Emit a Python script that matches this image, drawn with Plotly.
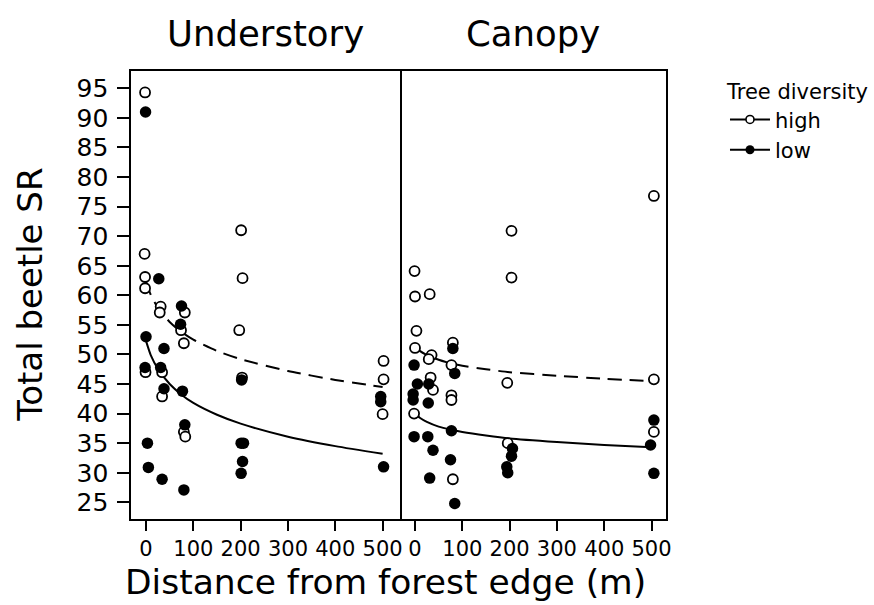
import plotly.graph_objects as go

# Understory, high tree diversity (open circles): distance (m, jittered) and species richness
under_high_x = [-2, -3, -2, -2, 201, 204, 31, 29, 82, 74, 80, 197, -1, 34, 34, 203, 80, 83, 502, 502, 500]
under_high_y = [94.3, 67.0, 63.1, 61.2, 71.0, 62.9, 58.1, 57.1, 57.1, 54.1, 51.9, 54.1, 47.0, 47.0, 42.9, 46.1, 36.9, 36.1, 48.9, 45.8, 39.9]

# Understory, low tree diversity (filled circles)
under_low_x = [-1, 27, 75, 73, 0, 38, -2, 31, 38, 77, 202, 82, 3, 5, 34, 80, 201, 206, 204, 201, 496, 496, 502]
under_low_y = [91.0, 62.8, 58.2, 55.1, 53.0, 51.0, 47.8, 47.8, 44.2, 43.8, 45.7, 38.1, 35.0, 30.9, 28.9, 27.1, 35.0, 35.0, 31.9, 29.9, 42.9, 42.0, 31.0]

# Canopy, high tree diversity
canopy_high_x = [204, 204, -1, 0, 31, 3, 80, 0, 35, 29, 77, 33, 38, 77, 77, -2, 195, 80, 196, 505, 505, 505]
canopy_high_y = [70.9, 63.0, 64.1, 59.8, 60.2, 54.0, 52.0, 51.1, 49.9, 49.2, 48.2, 46.1, 44.0, 43.1, 42.3, 40.0, 45.2, 28.9, 35.0, 76.8, 45.8, 36.9]

# Canopy, low tree diversity
canopy_low_x = [80, -2, 84, 5, 29, -4, -4, 28, 77, -2, 27, 38, 75, 31, 84, 206, 204, 194, 196, 505, 498, 505]
canopy_low_y = [51.0, 48.2, 46.8, 45.0, 45.0, 43.3, 42.3, 41.8, 37.1, 36.1, 36.1, 33.8, 32.2, 29.1, 24.8, 34.1, 32.8, 31.0, 30.0, 38.9, 34.7, 29.9]

# Fitted model curves
fit_dist = [0, 10, 25, 50, 75, 100, 150, 200, 300, 400, 500]
under_high_fit = [62.3, 60.1, 57.9, 55.5, 53.8, 52.5, 50.6, 49.2, 47.2, 45.7, 44.5]
under_low_fit = [52.3, 49.9, 47.6, 45.0, 43.2, 41.8, 39.8, 38.3, 36.1, 34.5, 33.2]
canopy_high_fit = [51.3, 50.6, 49.9, 49.1, 48.5, 48.1, 47.5, 47.0, 46.4, 45.9, 45.5]
canopy_low_fit = [40.0, 39.3, 38.6, 37.8, 37.3, 36.9, 36.3, 35.8, 35.2, 34.7, 34.3]

x_ticks = [0, 100, 200, 300, 400, 500]
y_ticks = list(range(25, 100, 5))

FONT = "DejaVu Sans"
W, H = 874, 605

open_marker = dict(symbol="circle", size=10, color="white", line=dict(color="black", width=1.8))
filled_marker = dict(symbol="circle", size=11.5, color="black", line=dict(color="black", width=0))

fig = go.Figure()

panels = [
    ("x", "y", under_high_x, under_high_y, under_low_x, under_low_y, under_high_fit, under_low_fit),
    ("x2", "y2", canopy_high_x, canopy_high_y, canopy_low_x, canopy_low_y, canopy_high_fit, canopy_low_fit),
]
for xa, ya, hx, hy, lx, ly, hfit, lfit in panels:
    fig.add_trace(go.Scatter(x=fit_dist, y=hfit, mode="lines", xaxis=xa, yaxis=ya,
                             line=dict(color="black", width=2, dash="14px,8px", shape="spline", smoothing=0.6),
                             showlegend=False, hoverinfo="skip"))
    fig.add_trace(go.Scatter(x=fit_dist, y=lfit, mode="lines", xaxis=xa, yaxis=ya,
                             line=dict(color="black", width=2, shape="spline", smoothing=0.6),
                             showlegend=False, hoverinfo="skip"))
    fig.add_trace(go.Scatter(x=hx, y=hy, mode="markers", xaxis=xa, yaxis=ya,
                             marker=open_marker, showlegend=False))
    fig.add_trace(go.Scatter(x=lx, y=ly, mode="markers", xaxis=xa, yaxis=ya,
                             marker=filled_marker, showlegend=False))

# Legend entries
fig.add_trace(go.Scatter(x=[None], y=[None], mode="lines+markers", name="high",
                         line=dict(color="black", width=2), marker=dict(symbol="circle", size=8, color="white",
                                                                        line=dict(color="black", width=1.6))))
fig.add_trace(go.Scatter(x=[None], y=[None], mode="lines+markers", name="low",
                         line=dict(color="black", width=2), marker=dict(symbol="circle", size=9, color="black")))

left_px, mid_px, right_px = 132.3, 402.8, 670.3
top_px, bottom_px = 71.0, 519.0
y_dom = [1 - bottom_px / H, 1 - top_px / H]

common_x = dict(tickvals=x_ticks, ticks="outside", ticklen=10, tickwidth=2, tickcolor="black",
                showline=True, linewidth=2, linecolor="black", mirror=True,
                showgrid=False, zeroline=False, tickfont=dict(size=21, color="black", family=FONT))
common_y = dict(range=[22.18, 97.93], domain=y_dom, showline=True, linewidth=2, linecolor="black",
                showgrid=False, zeroline=False)

fig.update_layout(
    width=W, height=H,
    margin=dict(l=0, r=0, t=0, b=0),
    paper_bgcolor="white", plot_bgcolor="white",
    font=dict(family=FONT, color="black"),
    xaxis=dict(domain=[left_px / W, mid_px / W], range=[-30.9, 536.8], anchor="y", **common_x),
    xaxis2=dict(domain=[mid_px / W, right_px / W], range=[-31.7, 530.0], anchor="y2", **common_x),
    # left panel: line on both sides (its right edge is the divider)
    yaxis=dict(anchor="x", tickvals=y_ticks, ticks="outside", ticklen=12, tickwidth=2, tickcolor="black",
               ticklabelstandoff=4, mirror=True, tickfont=dict(size=25, color="black", family=FONT), **common_y),
    # right panel: only its outer right edge
    yaxis2=dict(anchor="x2", side="right", mirror=False, showticklabels=False, ticks="", **common_y),
    legend=dict(x=730 / W, y=1 - 72 / H, xanchor="left", yanchor="top",
                title=dict(text="Tree diversity", font=dict(size=21, family=FONT)),
                font=dict(size=21, family=FONT), itemwidth=40, bgcolor="rgba(0,0,0,0)"),
    showlegend=True,
)

annotations = [
    dict(text="Understory", x=(left_px + mid_px) / 2 / W, y=1 - 33 / H, size=35.5, angle=0),
    dict(text="Canopy", x=(mid_px + right_px) / 2 / W, y=1 - 33 / H, size=35.5, angle=0),
    dict(text="Distance from forest edge (m)", x=388.5 / W, y=1 - 582 / H, size=34.5, angle=0),
    dict(text="Total beetle SR", x=30 / W, y=1 - 295 / H, size=34, angle=-90),
]
for a in annotations:
    fig.add_annotation(text=a["text"], x=a["x"], y=a["y"], xref="paper", yref="paper",
                       xanchor="center", yanchor="middle", showarrow=False, textangle=a["angle"],
                       font=dict(size=a["size"], family=FONT, color="black"))

fig.write_html("out.html")
